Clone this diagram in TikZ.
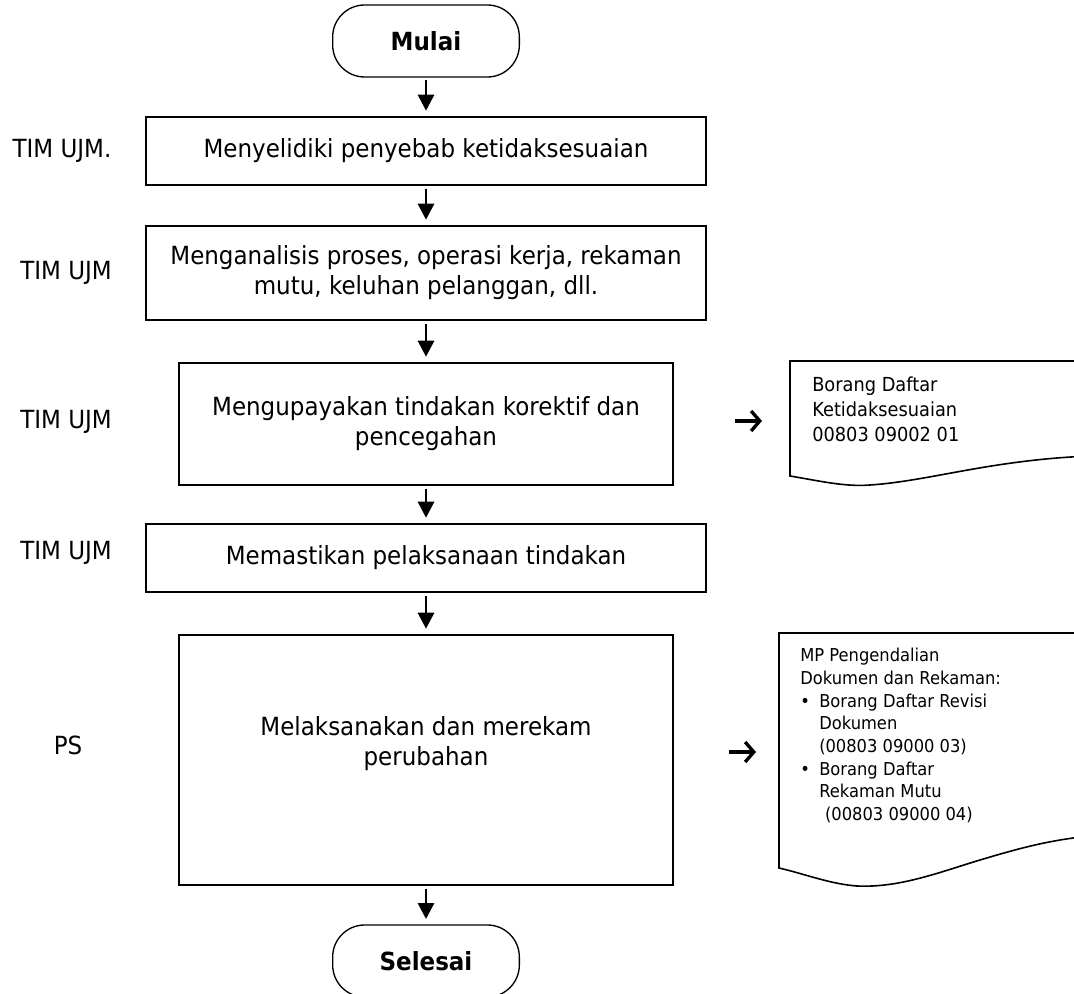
\documentclass[tikz,border=0pt]{standalone}
\usepackage{fontspec}
\setmainfont{DejaVu Sans}[FakeStretch=0.92]
\usetikzlibrary{arrows.meta}
\tikzset{
  terminal/.style={draw, line width=1pt, rounded corners=24pt,
    minimum width=140pt, minimum height=54pt, inner sep=0pt,
    font=\fontsize{18.75}{22.5}\selectfont\bfseries},
  procbox/.style={draw, line width=1.4pt, align=center, inner sep=0pt,
    font=\fontsize{18.75}{22.5}\selectfont},
  role/.style={font=\fontsize{18.75}{22.5}\selectfont},
  flow/.style={line width=2.2pt, -{Triangle[length=12pt,width=12pt]},
    shorten <=2pt, shorten >=4pt},
  sidearrow/.style={line width=2.5pt, -{Straight Barb[length=6.5pt,width=15pt]}},
  docshape/.style={line width=1.2pt},
  docnote/.style={anchor=north west, align=left, inner sep=0pt}
}

\begin{document}
\begin{tikzpicture}[x=0.75pt, y=-0.75pt]

\def\px{0.75pt}   % one pixel of the page
\def\CX{426}      % centre line of the flow
\def\WW{560}      % wide box width
\def\NW{494}      % narrow box width

% page, 1074 x 994 px
\useasboundingbox (0,0) rectangle (1074,994);

%--- Flow column ---

\node[terminal] (mulai) at (\CX,41) {Mulai};
\node[procbox, minimum width=\WW*\px, minimum height=68*\px] (selidik) at (\CX,151)
  {Menyelidiki penyebab ketidaksesuaian};
\node[procbox, minimum width=\WW*\px, minimum height=94*\px] (analisis) at (\CX,273)
  {Menganalisis proses, operasi kerja, rekaman\\mutu, keluhan pelanggan, dll.};
\node[procbox, minimum width=\NW*\px, minimum height=122*\px] (upaya) at (\CX,424)
  {Mengupayakan tindakan korektif dan\\pencegahan};
\node[procbox, minimum width=\WW*\px, minimum height=68*\px] (pastikan) at (\CX,558)
  {Memastikan pelaksanaan tindakan};
\node[procbox, minimum width=\NW*\px, minimum height=250*\px, text depth=28pt] (laksana) at (\CX,760)
  {Melaksanakan dan merekam\\perubahan};
\node[terminal] (selesai) at (\CX,961) {Selesai};

% arrows down the column
\foreach \a/\b in {mulai/selidik, selidik/analisis, analisis/upaya,
                   upaya/pastikan, pastikan/laksana, laksana/selesai}
  \draw[flow] (\a) -- (\b);

%--- Who does it ---

\node[role] (roleA) at (62,151) {TIM UJM.};
\node[role] (roleB) at (66,273) {TIM UJM};
\node[role] (roleC) at (66,422) {TIM UJM};
\node[role] (roleD) at (66,553) {TIM UJM};
\node[role] (roleE) at (68,745) {PS};

%--- Records ---

% 1. Borang daftar ketidaksesuaian
\draw[docshape] (1090,361) -- (790,361) -- (790,476)
  .. controls (820,481) and (845,487) .. (870,485)
  .. controls (930,481) and (990,460) .. (1090,456);
\node[docnote, font=\fontsize{14.5}{18.75}\selectfont] (ketidak) at (812,377)
  {Borang Daftar\\Ketidaksesuaian\\00803 09002 01};
\coordinate (outA) at (735,421);
\coordinate (inA)  at (762,421);
\draw[sidearrow] (outA) -- (inA);

% 2. MP pengendalian dokumen dan rekaman
\draw[docshape] (1090,633) -- (779,633) -- (779,868)
  .. controls (805,874) and (830,884) .. (857,886)
  .. controls (900,888) and (940,872) .. (980,860)
  .. controls (1020,848) and (1050,840) .. (1090,836);
\node[docnote, font=\fontsize{13.3}{17}\selectfont] (rekaman) at (800,648)
  {MP Pengendalian\\
   Dokumen dan Rekaman:\\
   \makebox[1.07em][l]{\textbullet}Borang Daftar Revisi\\
   \hspace*{1.07em}Dokumen\\
   \hspace*{1.07em}(00803 09000 03)\\
   \makebox[1.07em][l]{\textbullet}Borang Daftar\\
   \hspace*{1.07em}Rekaman Mutu\\
   \hspace*{1.4em}(00803 09000 04)};
\coordinate (outB) at (729,752);
\coordinate (inB)  at (756,752);
\draw[sidearrow] (outB) -- (inB);

\end{tikzpicture}
\end{document}
